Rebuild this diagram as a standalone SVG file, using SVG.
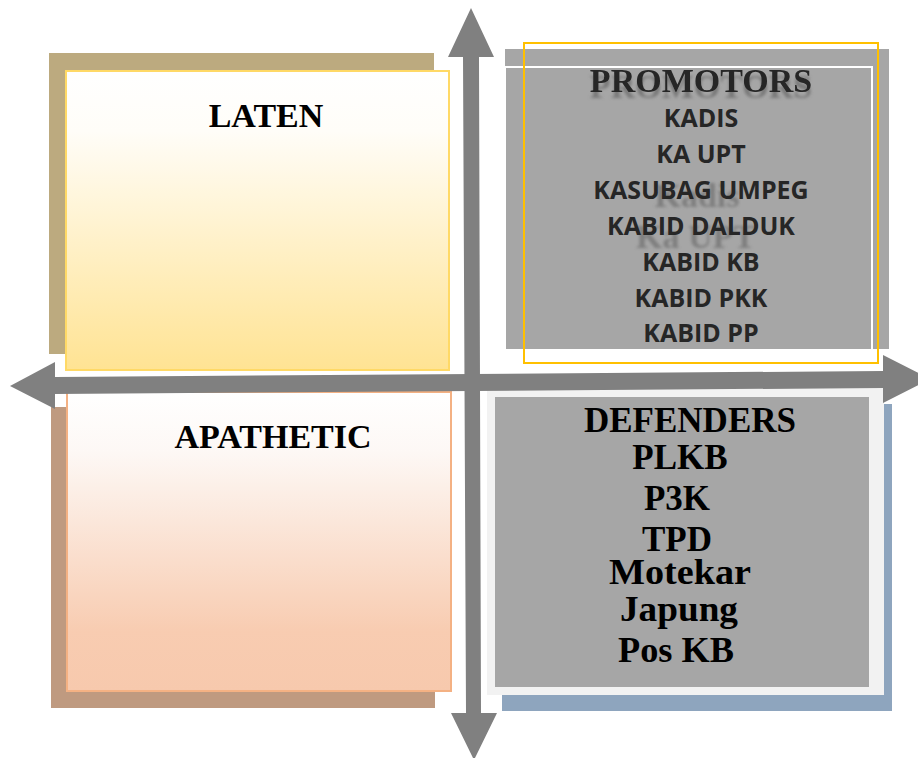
<svg xmlns="http://www.w3.org/2000/svg" width="918" height="758" viewBox="0 0 918 758">
<defs>
<linearGradient id="gLaten" x1="0" y1="0" x2="0" y2="1">
<stop offset="0" stop-color="#FFFFFF"/><stop offset="0.2" stop-color="#FFFDF8"/><stop offset="1" stop-color="#FFE393"/>
</linearGradient>
<linearGradient id="gApa" x1="0" y1="0" x2="0" y2="1">
<stop offset="0" stop-color="#FFFFFF"/><stop offset="0.2" stop-color="#FDF8F5"/><stop offset="0.8" stop-color="#F8CCB1"/><stop offset="1" stop-color="#F7C9AD"/>
</linearGradient>
<filter id="blur" x="-10%" y="-30%" width="120%" height="160%"><feGaussianBlur stdDeviation="1.6"/></filter>
<filter id="shadow" x="-10%" y="-30%" width="120%" height="180%">
<feGaussianBlur in="SourceAlpha" stdDeviation="1.6" result="b"/>
<feOffset in="b" dy="6" result="o"/>
<feFlood flood-color="#6e6e6e" flood-opacity="0.8"/>
<feComposite in2="o" operator="in" result="s"/>
<feMerge><feMergeNode in="s"/><feMergeNode in="SourceGraphic"/></feMerge>
</filter>
</defs>
<style>
.title{font-family:"Liberation Serif","Times New Roman",serif;font-weight:bold;font-size:34px;text-anchor:middle;fill:#000}
.prom{font-family:"Liberation Serif","Times New Roman",serif;font-weight:bold;font-size:34px;text-anchor:middle;fill:#262626;filter:url(#shadow)}
.ghost{font-family:"Liberation Serif","Times New Roman",serif;font-weight:bold;font-size:34px;text-anchor:middle;fill:#6e6e6e;filter:url(#blur);opacity:0.7}
.item{font-family:"Open Sans","Liberation Sans",sans-serif;font-weight:bold;font-size:25px;text-anchor:middle;fill:#262626}
.def{font-family:"Liberation Serif","Times New Roman",serif;font-weight:bold;font-size:35px;text-anchor:middle;fill:#000}
.arrow{fill:#808080}
</style>
<rect width="918" height="758" fill="#FFFFFF"/>

<g id="laten">
<rect x="49" y="53" width="385" height="301" fill="#BCAA7F"/>
<rect x="66" y="71" width="383" height="299" fill="url(#gLaten)" stroke="#FFD966" stroke-width="2"/>
<text class="title" x="266" y="127">LATEN</text>
</g>

<g id="apathetic">
<rect x="51" y="407" width="384" height="301" fill="#BF9A80"/>
<rect x="67" y="392" width="384" height="299" fill="url(#gApa)" stroke="#F4B183" stroke-width="2"/>
<text class="title" x="273" y="448">APATHETIC</text>
</g>

<g id="promotors">
<rect x="505" y="49" width="384" height="300" fill="#A6A6A6"/>
<rect x="505" y="67" width="367" height="296" fill="none" stroke="#FFFFFF" stroke-width="2"/>
<rect x="524" y="43" width="354" height="320" fill="none" stroke="#FFC000" stroke-width="2"/>
<text class="ghost" x="697" y="207">Kadis</text>
<text class="ghost" x="696" y="248">Ka UPT</text>
<text class="prom" x="701" y="92">PROMOTORS</text>
<text class="item" x="701" y="127">KADIS</text>
<text class="item" x="701" y="163">KA UPT</text>
<text class="item" x="701" y="199">KASUBAG UMPEG</text>
<text class="item" x="701" y="235">KABID DALDUK</text>
<text class="item" x="701" y="271">KABID KB</text>
<text class="item" x="701" y="307">KABID PKK</text>
<text class="item" x="701" y="342">KABID PP</text>
</g>

<g id="defenders">
<rect x="502" y="404" width="390" height="307" fill="#8EA5BE"/>
<rect x="487" y="388" width="397" height="307" fill="#F2F2F2"/>
<rect x="495" y="397" width="374" height="290" fill="#A6A6A6"/>
<text class="def" x="690" y="432">DEFENDERS</text>
<text class="def" x="680" y="469">PLKB</text>
<text class="def" x="677" y="510">P3K</text>
<text class="def" x="677" y="551">TPD</text>
<text class="def" x="680" y="584" textLength="142" lengthAdjust="spacingAndGlyphs">Motekar</text>
<text class="def" x="679" y="621" textLength="118" lengthAdjust="spacingAndGlyphs">Japung</text>
<text class="def" x="676" y="662" textLength="116" lengthAdjust="spacingAndGlyphs">Pos KB</text>
</g>

<g id="connectors">
<polygon class="arrow" points="471,8 494,57 479,57 481,713 497,713 474,760 451,713 466,713 463,57 448,57"/>
<polygon class="arrow" points="10,386 55,362 55,377 883,371 883,355 930,379 883,403 883,388 55,394 55,409"/>
</g>
</svg>
